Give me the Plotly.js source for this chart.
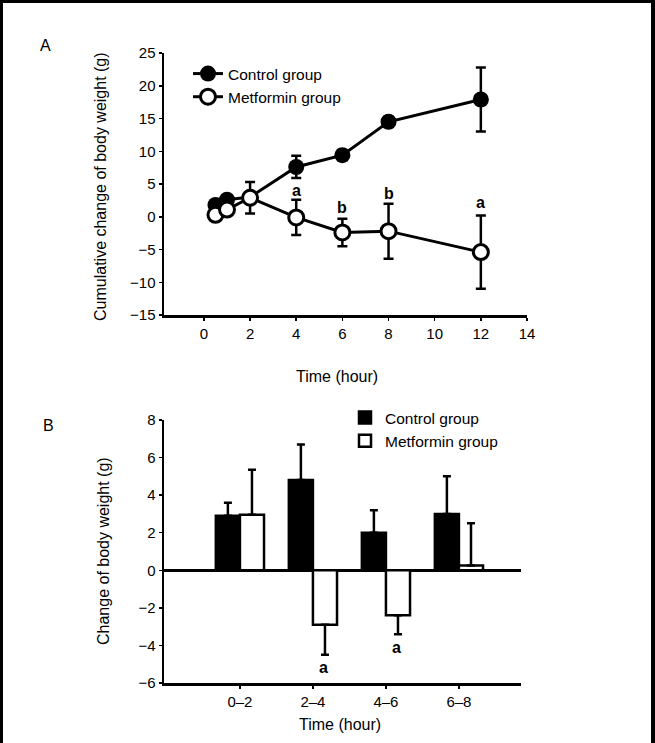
<!DOCTYPE html>
<html>
<head>
<meta charset="utf-8">
<script src="https://cdn.plot.ly/plotly-3.0.1.min.js"></script>
<style>
  body { margin: 0; background: #fff; }
  #wrap { position: relative; width: 655px; height: 743px; }
  #frame { position: absolute; left: 0; top: 0; width: 648px; height: 743px;
           border-left: 3px solid #000; border-top: 3px solid #000; border-right: 4px solid #000;
           pointer-events: none; box-sizing: content-box; }
</style>
</head>
<body>
<div id="wrap">
  <div id="plot"></div>
  <div id="frame"></div>
</div>
<script>
// Panel A: cumulative change of body weight
var hoursA = [0.5, 1, 2, 4, 6, 8, 12];
var controlCum = [1.8, 2.6, 3.0, 7.6, 9.4, 14.5, 17.9];
var controlCumErr = [0.3, 0.3, 0.5, 1.7, 0.8, 0.8, 4.9];
var metforminCum = [0.3, 1.1, 2.9, -0.1, -2.4, -2.2, -5.4];
var metforminCumErr = [0.3, 0.3, 2.4, 2.7, 2.1, 4.2, 5.6];
var sigA = [{x: 4, y: 4.0, t: "a"}, {x: 6, y: 1.4, t: "b"}, {x: 8, y: 3.5, t: "b"}, {x: 12, y: 2.1, t: "a"}];

// Panel B: change of body weight per interval
var intervals = ["0\u20132", "2\u20134", "4\u20136", "6\u20138"];
var controlChg = [2.9, 4.8, 2.0, 3.0];
var controlChgErr = [0.7, 1.9, 1.2, 2.0];
var metforminChg = [2.95, -2.9, -2.4, 0.25];
var metforminChgErr = [2.4, 1.6, 1.0, 2.25];
var sigB = [{x: 1.14, y: -5.2, t: "a"}, {x: 2.14, y: -4.1, t: "a"}];

var W = 655, H = 743;
function px(x) { return x / W; }
function py(y) { return 1 - y / H; }

var font = "Liberation Sans, Arial, sans-serif";

var traceA1 = {
  x: hoursA, y: controlCum, name: "Control group", type: "scatter", mode: "lines+markers",
  line: {color: "#000", width: 3},
  marker: {color: "#000", size: 16, symbol: "circle"},
  error_y: {type: "data", array: controlCumErr, color: "#000", thickness: 2.5, width: 5},
  xaxis: "x", yaxis: "y", legend: "legend"
};
var traceA2 = {
  x: hoursA, y: metforminCum, name: "Metformin group", type: "scatter", mode: "lines+markers",
  line: {color: "#000", width: 3},
  marker: {color: "#fff", size: 15, symbol: "circle", line: {color: "#000", width: 3}},
  error_y: {type: "data", array: metforminCumErr, color: "#000", thickness: 2.5, width: 5},
  xaxis: "x", yaxis: "y", legend: "legend"
};

// one-sided error bars pointing away from zero
var metPlus = metforminChg.map((v, i) => v >= 0 ? metforminChgErr[i] : 0);
var metMinus = metforminChg.map((v, i) => v < 0 ? metforminChgErr[i] : 0);

var traceB1 = {
  x: intervals, y: controlChg, name: "Control group", type: "bar",
  marker: {color: "#000", line: {color: "#000", width: 2.5}},
  error_y: {type: "data", symmetric: false, array: controlChgErr, arrayminus: [0, 0, 0, 0],
            color: "#000", thickness: 2.5, width: 4},
  xaxis: "x2", yaxis: "y2", legend: "legend2"
};
var traceB2 = {
  x: intervals, y: metforminChg, name: "Metformin group", type: "bar",
  marker: {color: "#fff", line: {color: "#000", width: 2.5}},
  error_y: {type: "data", symmetric: false, array: metPlus, arrayminus: metMinus,
            color: "#000", thickness: 2.5, width: 4},
  xaxis: "x2", yaxis: "y2", legend: "legend2"
};

var annotations = [];
sigA.forEach(s => annotations.push({x: s.x, y: s.y, xref: "x", yref: "y", text: "<b>" + s.t + "</b>",
  showarrow: false, xanchor: "center", yanchor: "middle", font: {size: 16, color: "#000", family: font}}));
sigB.forEach(s => annotations.push({x: s.x, y: s.y, xref: "x2", yref: "y2", text: "<b>" + s.t + "</b>",
  showarrow: false, xanchor: "center", yanchor: "middle", font: {size: 16, color: "#000", family: font}}));

function paperText(x, y, text, angle) {
  annotations.push({x: px(x), y: py(y), xref: "paper", yref: "paper", text: text,
    textangle: angle || 0, showarrow: false, xanchor: "center", yanchor: "middle",
    font: {size: 16, color: "#000", family: font}});
}
paperText(45, 45, "A");
paperText(48, 425, "B");
paperText(100, 187, "Cumulative change of body weight (g)", -90);
paperText(337, 377, "Time (hour)");
paperText(103, 551, "Change of body weight (g)", -90);
paperText(340, 724, "Time (hour)");

var axisCommon = {
  showline: true, linecolor: "#000", linewidth: 2.5, showgrid: false, zeroline: false,
  ticks: "outside", ticklen: 3, tickwidth: 1.5, tickcolor: "#000",
  tickfont: {size: 15, color: "#000", family: font}
};

var layout = {
  width: W, height: H,
  margin: {l: 0, r: 0, t: 0, b: 0},
  paper_bgcolor: "#fff", plot_bgcolor: "#fff",
  font: {family: font, color: "#000"},
  xaxis: Object.assign({}, axisCommon, {domain: [px(164), px(527)], range: [-1.73, 14],
    tick0: 0, dtick: 2, anchor: "y"}),
  yaxis: Object.assign({}, axisCommon, {domain: [py(315), py(53)], range: [-15, 25],
    dtick: 5, anchor: "x"}),
  xaxis2: Object.assign({}, axisCommon, {domain: [px(164), px(521)], range: [-1.04, 3.85],
    anchor: "y2", type: "category"}),
  yaxis2: Object.assign({}, axisCommon, {domain: [py(683), py(420)], range: [-6, 8],
    dtick: 2, anchor: "x2", zeroline: true, zerolinecolor: "#000", zerolinewidth: 2.5}),
  barmode: "group", bargap: 0.34, bargroupgap: 0,
  legend: {x: px(188), y: py(57), xanchor: "left", yanchor: "top", bgcolor: "rgba(0,0,0,0)",
    font: {size: 15.5, color: "#000", family: font}},
  legend2: {x: px(345), y: py(401), xanchor: "left", yanchor: "top", bgcolor: "rgba(0,0,0,0)",
    font: {size: 15.5, color: "#000", family: font}},
  annotations: annotations
};

Plotly.newPlot("plot", [traceA1, traceA2, traceB1, traceB2], layout, {staticPlot: true});
</script>
</body>
</html>
